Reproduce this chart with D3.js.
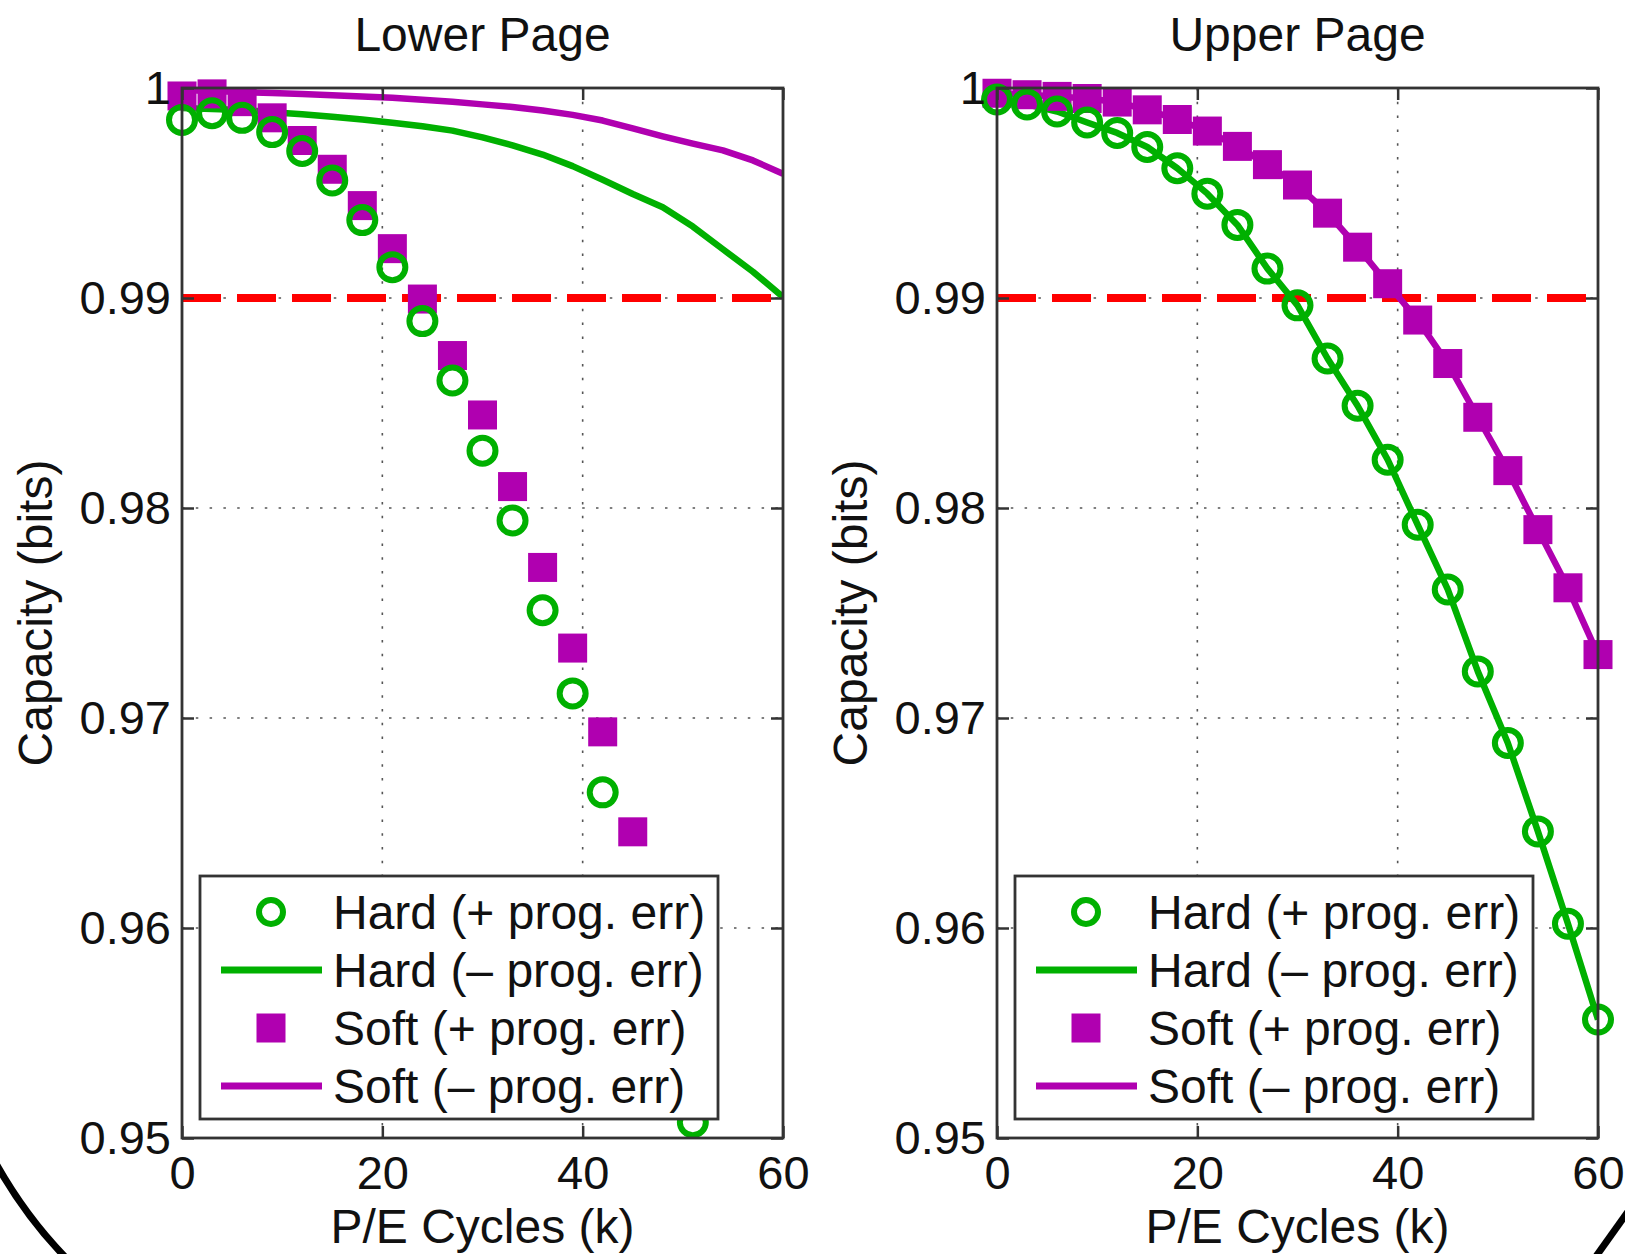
<!DOCTYPE html>
<html>
<head>
<meta charset="utf-8">
<script src="https://cdn.jsdelivr.net/npm/d3@7"></script>
<style>
  body { margin: 0; background: #fff; }
  svg { display: block; }
</style>
</head>
<body>
<svg id="chart"></svg>
<script>
// ----- Data -----
const cycles = [0, 3, 6, 9, 12, 15, 18, 21, 24, 27, 30, 33, 36, 39, 42, 45, 48, 51, 54, 57, 60];
const xTicks = [0, 20, 40, 60];
const yTicks = [0.95, 0.96, 0.97, 0.98, 0.99, 1];
const threshold = 0.99;
const legendLabels = ["Hard (+ prog. err)", "Hard (\u2013 prog. err)", "Soft (+ prog. err)", "Soft (\u2013 prog. err)"];
const panelTitles = ["Lower Page", "Upper Page"];

// lower page (markers stop where they leave the axes)
const lowerHardPlus = [0.99848, 0.99880, 0.99858, 0.99790, 0.99700, 0.99560, 0.99371, 0.99147, 0.98890, 0.98607,
                       0.98273, 0.97941, 0.97513, 0.97117, 0.96646, 0.96120, 0.95580, 0.95075];
const lowerHardMinus = [0.99905, 0.99900, 0.99895, 0.99885, 0.99875, 0.99863, 0.99850, 0.99835, 0.99818, 0.99797,
                        0.99765, 0.99727, 0.99683, 0.99628, 0.99563, 0.99495, 0.99432, 0.99340, 0.99232, 0.99125, 0.99005];
const lowerSoftPlus = [0.99962, 0.99972, 0.99935, 0.99858, 0.99750, 0.99613, 0.99440, 0.99235, 0.98995, 0.98726,
                       0.98443, 0.98102, 0.97717, 0.97333, 0.96934, 0.96458, 0.95970, 0.95460];
const lowerSoftMinus = [0.99990, 0.99986, 0.99981, 0.99976, 0.99971, 0.99966, 0.99960, 0.99953, 0.99944, 0.99934,
                        0.99922, 0.99910, 0.99893, 0.99872, 0.99845, 0.99808, 0.99770, 0.99735, 0.99703, 0.99655, 0.99592];

// upper page
const upperHardPlus = [0.99945, 0.99922, 0.99888, 0.99836, 0.99786, 0.99719, 0.99618, 0.99497, 0.99348, 0.99140,
                       0.98965, 0.98712, 0.98487, 0.98230, 0.97920, 0.97612, 0.97222, 0.96881, 0.96460, 0.96020, 0.95564];
const upperHardMinus = [0.99945, 0.99922, 0.99888, 0.99836, 0.99786, 0.99719, 0.99618, 0.99497, 0.99348, 0.99140,
                        0.98965, 0.98712, 0.98487, 0.98230, 0.97920, 0.97612, 0.97222, 0.96881, 0.96460, 0.96020, 0.95564];
const upperSoftPlus = [0.99975, 0.99968, 0.99960, 0.99950, 0.99933, 0.99896, 0.99850, 0.99795, 0.99722, 0.99635,
                       0.99538, 0.99404, 0.99242, 0.99068, 0.98895, 0.98688, 0.98432, 0.98178, 0.97897, 0.97620, 0.97302];
const upperSoftMinus = [0.99975, 0.99968, 0.99960, 0.99950, 0.99933, 0.99896, 0.99850, 0.99795, 0.99722, 0.99635,
                        0.99538, 0.99404, 0.99242, 0.99068, 0.98895, 0.98688, 0.98432, 0.98178, 0.97897, 0.97620, 0.97302];

// ----- Constants -----
const W = 1625, H = 1254;
const green = "#00b000", purple = "#b000b0", red = "#ff0000";
const font = "'Liberation Sans', Arial, Helvetica, sans-serif";
const fontSize = 48, tickFontSize = 47;
const plotTop = 88, plotBottom = 1138, plotWidth = 601;
const panelLefts = [182, 997];

const svg = d3.select("#chart").attr("width", W).attr("height", H)
    .style("font-family", font);

svg.append("rect").attr("width", W).attr("height", H).attr("fill", "#fff");

const toPoints = vals => vals.map((v, i) => ({ k: cycles[i], v }));

// ----- Panel -----
function drawPanel(idx, series) {
    const left = panelLefts[idx], right = left + plotWidth;
    const x = d3.scaleLinear().domain([0, 60]).range([left, right]);
    const y = d3.scaleLinear().domain([0.95, 1]).range([plotBottom, plotTop]);
    const g = svg.append("g");

    const clipId = "clip" + idx;
    g.append("clipPath").attr("id", clipId).append("rect")
        .attr("x", left).attr("y", plotTop).attr("width", plotWidth).attr("height", plotBottom - plotTop);

    // grid
    const grid = g.append("g").attr("stroke", "#555").attr("stroke-width", 1.6)
        .attr("stroke-dasharray", "2.5 11.3");
    grid.selectAll(".gx").data(xTicks.slice(1, -1)).join("line")
        .attr("x1", d => x(d)).attr("x2", d => x(d)).attr("y1", plotTop).attr("y2", plotBottom);
    grid.selectAll(".gy").data(yTicks.slice(1, -1)).join("line")
        .attr("x1", left).attr("x2", right).attr("y1", d => y(d)).attr("y2", d => y(d));

    // threshold
    g.append("line")
        .attr("x1", left).attr("x2", right).attr("y1", y(threshold)).attr("y2", y(threshold))
        .attr("stroke", red).attr("stroke-width", 8).attr("stroke-dasharray", "39 16");

    // lines
    const line = d3.line().x(d => x(d.k)).y(d => y(d.v));
    const lines = g.append("g").attr("clip-path", `url(#${clipId})`);
    [[series.hardMinus, green], [series.softMinus, purple]].forEach(([vals, c]) => {
        lines.append("path").datum(toPoints(vals))
            .attr("fill", "none").attr("stroke", c).attr("stroke-width", 6.5)
            .attr("stroke-linejoin", "round").attr("d", line);
    });

    // markers
    g.append("g").selectAll("rect").data(toPoints(series.softPlus)).join("rect")
        .attr("x", d => x(d.k) - 14.5).attr("y", d => y(d.v) - 14.5)
        .attr("width", 29).attr("height", 29).attr("fill", purple);
    g.append("g").selectAll("circle").data(toPoints(series.hardPlus)).join("circle")
        .attr("cx", d => x(d.k)).attr("cy", d => y(d.v)).attr("r", 13)
        .attr("fill", "none").attr("stroke", green).attr("stroke-width", 6);

    // axes
    const yFmt = d => d === 1 ? "1" : d.toFixed(2);
    const axL = g.append("g").attr("transform", `translate(${left},0)`)
        .call(d3.axisLeft(y).tickValues(yTicks).tickFormat(yFmt).tickSizeInner(-12).tickSizeOuter(0).tickPadding(11));
    const axR = g.append("g").attr("transform", `translate(${right},0)`)
        .call(d3.axisRight(y).tickValues(yTicks).tickFormat("").tickSizeInner(-12).tickSizeOuter(0));
    const axB = g.append("g").attr("transform", `translate(0,${plotBottom})`)
        .call(d3.axisBottom(x).tickValues(xTicks).tickFormat(d3.format("d")).tickSizeInner(-12).tickSizeOuter(0).tickPadding(18));
    const axT = g.append("g").attr("transform", `translate(0,${plotTop})`)
        .call(d3.axisTop(x).tickValues(xTicks).tickFormat("").tickSizeInner(-12).tickSizeOuter(0));
    [axL, axR, axB, axT].forEach(a => {
        a.select(".domain").remove();
        a.attr("font-family", font).attr("font-size", tickFontSize);
        a.selectAll("line").attr("stroke", "#333").attr("stroke-width", 2.5);
        a.selectAll("text").attr("fill", "#111");
    });

    g.append("rect")
        .attr("x", left).attr("y", plotTop).attr("width", plotWidth).attr("height", plotBottom - plotTop)
        .attr("fill", "none").attr("stroke", "#333").attr("stroke-width", 2.8);

    // labels
    g.append("text").attr("x", (left + right) / 2).attr("y", 51)
        .attr("text-anchor", "middle").attr("font-size", fontSize).attr("fill", "#111")
        .text(panelTitles[idx]);
    g.append("text").attr("x", (left + right) / 2).attr("y", 1243)
        .attr("text-anchor", "middle").attr("font-size", fontSize).attr("fill", "#111")
        .text("P/E Cycles (k)");
    g.append("text")
        .attr("transform", `translate(${left - 130},${(plotTop + plotBottom) / 2}) rotate(-90)`)
        .attr("text-anchor", "middle").attr("font-size", fontSize).attr("fill", "#111")
        .text("Capacity (bits)");

    // legend
    const lx = left + 18, ly = 876;
    const leg = g.append("g").attr("transform", `translate(${lx},${ly})`);
    leg.append("rect").attr("width", 518).attr("height", 243)
        .attr("fill", "#fff").attr("stroke", "#333").attr("stroke-width", 2.8);
    const rows = [36, 94, 152, 210];
    leg.append("circle").attr("cx", 71).attr("cy", rows[0]).attr("r", 12)
        .attr("fill", "none").attr("stroke", green).attr("stroke-width", 6);
    leg.append("line").attr("x1", 21).attr("x2", 122).attr("y1", rows[1]).attr("y2", rows[1])
        .attr("stroke", green).attr("stroke-width", 7);
    leg.append("rect").attr("x", 71 - 14.5).attr("y", rows[2] - 14.5).attr("width", 29).attr("height", 29)
        .attr("fill", purple);
    leg.append("line").attr("x1", 21).attr("x2", 122).attr("y1", rows[3]).attr("y2", rows[3])
        .attr("stroke", purple).attr("stroke-width", 7);
    leg.selectAll("text.lab").data(legendLabels).join("text")
        .attr("class", "lab")
        .attr("x", 133).attr("y", (d, i) => rows[i]).attr("dy", "0.35em")
        .attr("font-size", fontSize).attr("fill", "#111")
        .text(d => d);
}

drawPanel(0, { hardPlus: lowerHardPlus, hardMinus: lowerHardMinus, softPlus: lowerSoftPlus, softMinus: lowerSoftMinus });
drawPanel(1, { hardPlus: upperHardPlus, hardMinus: upperHardMinus, softPlus: upperSoftPlus, softMinus: upperSoftMinus });

// ----- Frame arcs in the bottom corners -----
svg.append("path").attr("d", "M -6 1160 Q 26 1218 70 1262")
    .attr("fill", "none").attr("stroke", "#000").attr("stroke-width", 7);
svg.append("path").attr("d", "M 1632 1206 Q 1612 1234 1592 1262")
    .attr("fill", "none").attr("stroke", "#000").attr("stroke-width", 7);
</script>
</body>
</html>
